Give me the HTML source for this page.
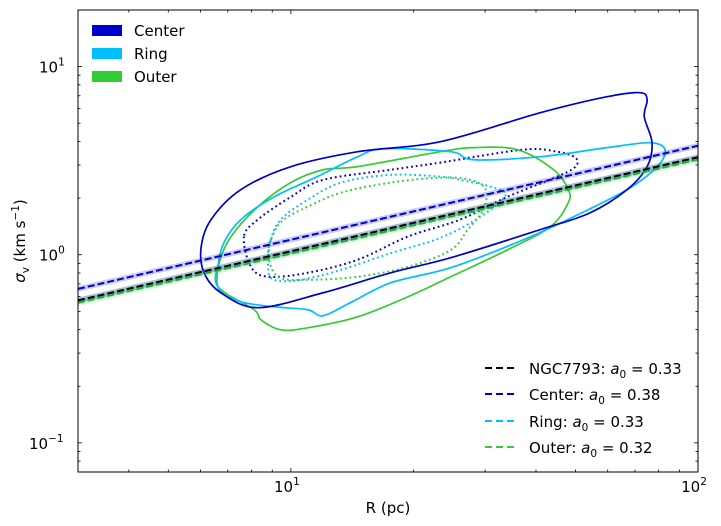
<!DOCTYPE html>
<html><head><meta charset="utf-8">
<style>
html,body{margin:0;padding:0;background:#fff;}
svg{display:block;font-family:"DejaVu Sans","Liberation Sans",sans-serif;}
</style></head>
<body>
<svg id="chart" width="721" height="526" viewBox="0 0 721 526" xmlns="http://www.w3.org/2000/svg">
<g id="marks"></g>
<g id="axes"></g>
</svg>
<script>
// ---- data ----
const fitNames = ["NGC7793", "Center", "Ring", "Outer"];
const fitA0 = [0.33, 0.38, 0.33, 0.32];
const fitColors = ["#000000", "#0000cd", "#00bfff", "#32cd32"];
const regionNames = ["Center", "Ring", "Outer"];
const regionColors = ["#0000cd", "#00bfff", "#32cd32"];

const centerOuterR = [72.1,75.0,73.8,77.1,75.0,67.0,54.3,41.0,24.7,17.6,12.0,8.30,6.73,6.12,6.02,6.37,7.54,10.0,14.6,23.3,41.0,59.8];
const centerOuterS = [7.27,6.67,5.42,3.94,2.94,2.22,1.67,1.36,0.964,0.802,0.628,0.523,0.628,0.802,1.10,1.54,2.22,2.94,3.53,3.99,5.69,6.92];
const ringOuterR = [16.9,24.7,28.1,41.0,59.8,76.2,83.0,79.4,67.0,49.4,37.2,24.7,17.6,14.0,12.0,11.0,9.09,7.54,6.67,6.62,6.85,7.54,9.09,11.6,14.6];
const ringOuterS = [3.66,3.53,3.20,3.32,3.71,3.94,3.62,2.94,2.22,1.59,1.20,0.853,0.710,0.556,0.474,0.510,0.529,0.562,0.652,0.863,1.16,1.54,2.03,2.60,3.32];
const outerOuterR = [6.62,8.12,8.44,9.45,11.0,14.6,19.4,24.7,34.0,43.4,48.0,48.0,44.2,36.0,28.1,23.3,14.6,12.0,10.0,8.30,7.13,6.67];
const outerOuterS = [0.676,0.510,0.451,0.399,0.409,0.468,0.598,0.764,1.06,1.41,1.89,2.22,2.83,3.62,3.71,3.53,2.94,2.83,2.42,1.80,1.25,0.906];
const centerInnerR = [7.67,7.98,8.79,11.0,14.6,19.4,26.1,34.0,45.1,50.0,50.0,45.1,37.2,23.3,17.6,12.0,10.0,8.30];
const centerInnerS = [1.25,0.863,0.764,0.802,0.941,1.25,1.54,2.03,2.60,2.94,3.28,3.53,3.62,3.09,2.83,2.50,2.03,1.54];
const ringInnerR = [8.93,8.79,9.09,10.6,13.3,17.6,23.3,29.2,33.7,30.9,26.1,23.3,17.6,13.3,11.0,9.45];
const ringInnerS = [1.20,0.863,0.736,0.736,0.832,1.02,1.23,1.59,2.08,2.30,2.50,2.60,2.66,2.42,1.96,1.54];
const outerInnerR = [9.09,8.79,9.29,11.0,14.6,19.4,24.7,27.2,29.7,30.1,27.6,23.3,17.6,13.3,11.0,9.61];
const outerInnerS = [1.31,1.02,0.764,0.736,0.764,0.863,1.06,1.36,1.74,2.22,2.50,2.57,2.42,2.14,1.80,1.54];

const xTickVals = [10, 100];
const xTickLabels = ["1", "2"];
const yTickVals = [0.1, 1, 10];
const yTickLabels = ["\u22121", "0", "1"];

// ---- axes ----
const L=78,R=698,T=10,B=472;
const xMin=3,xMax=100,yMin=0.07,yMax=20;
const lx=v=>Math.log10(v);
const X=v=>L+(lx(v)-lx(xMin))/(lx(xMax)-lx(xMin))*(R-L);
const Y=v=>B-(lx(v)-lx(yMin))/(lx(yMax)-lx(yMin))*(B-T);
const NS="http://www.w3.org/2000/svg";
function mk(tag,attrs,parent){const e=document.createElementNS(NS,tag);for(const k in attrs)e.setAttribute(k,attrs[k]);parent.appendChild(e);return e;}
const marks=document.getElementById('marks');
const axes=document.getElementById('axes');
const defs=mk('defs',{},marks);
const cp=mk('clipPath',{id:'clip'},defs);
mk('rect',{x:L,y:T,width:R-L,height:B-T},cp);
const plot=mk('g',{'clip-path':'url(#clip)'},marks);

function closedPath(rs,ss){
  const p=rs.map((r,i)=>[X(r),Y(ss[i])]);const n=p.length;let d=`M${p[0][0]},${p[0][1]}`;
  for(let i=0;i<n;i++){const p0=p[(i-1+n)%n],p1=p[i],p2=p[(i+1)%n],p3=p[(i+2)%n];
    d+=` C${p1[0]+(p2[0]-p0[0])/6},${p1[1]+(p2[1]-p0[1])/6} ${p2[0]-(p3[0]-p1[0])/6},${p2[1]-(p3[1]-p1[1])/6} ${p2[0]},${p2[1]}`;}
  return d+'Z';
}
const contours=[
  [centerInnerR,centerInnerS,0,true,'center-inner-contour'],
  [ringInnerR,ringInnerS,1,true,'ring-inner-contour'],
  [outerInnerR,outerInnerS,2,true,'outer-inner-contour'],
  [outerOuterR,outerOuterS,2,false,'outer-outer-contour'],
  [ringOuterR,ringOuterS,1,false,'ring-outer-contour'],
  [centerOuterR,centerOuterS,0,false,'center-outer-contour']
];
contours.forEach(c=>{
  const el=mk('path',{d:closedPath(c[0],c[1]),fill:'none',stroke:regionColors[c[2]],'stroke-width':1.7},plot);
  if(c[3]){el.setAttribute('stroke-dasharray','1.8 3');el.setAttribute('stroke-width','2');}
  
  
});

const fitOrder=[3,2,0,1];
fitOrder.forEach(i=>{
  const a=fitA0[i];
  const x1=X(xMin),y1=Y(a*Math.sqrt(xMin)),x2=X(xMax),y2=Y(a*Math.sqrt(xMax));
  const band=mk('line',{x1,y1,x2,y2,stroke:fitColors[i],'stroke-opacity':0.2,'stroke-width':5.5},plot);
  
  
  const ln=mk('line',{x1,y1,x2,y2,stroke:fitColors[i],'stroke-width':2,'stroke-dasharray':'7 3'},plot);
  
  
});

const frame=mk('rect',{x:L,y:T,width:R-L,height:B-T,fill:'none',stroke:'#000','stroke-width':1},axes);


function tickX(v,len){mk('line',{x1:X(v),x2:X(v),y1:B,y2:B-len,stroke:'#000','stroke-width':0.8},axes);mk('line',{x1:X(v),x2:X(v),y1:T,y2:T+len,stroke:'#000','stroke-width':0.8},axes);}
function tickY(v,len){mk('line',{x1:L,x2:L+len,y1:Y(v),y2:Y(v),stroke:'#000','stroke-width':0.8},axes);mk('line',{x1:R,x2:R-len,y1:Y(v),y2:Y(v),stroke:'#000','stroke-width':0.8},axes);}
[3,4,5,6,7,8,9,20,30,40,50,60,70,80,90].forEach(v=>tickX(v,2.5));
xTickVals.forEach(v=>tickX(v,4));
[0.07,0.08,0.09,0.2,0.3,0.4,0.5,0.6,0.7,0.8,0.9,2,3,4,5,6,7,8,9,20].forEach(v=>{if(v>=yMin&&v<=yMax)tickY(v,2.5);});
yTickVals.forEach(v=>tickY(v,4));
xTickVals.forEach((v,i)=>{
  const t=mk('text',{x:X(v)-4,y:B+20,'font-size':15,'text-anchor':'middle'},axes);
  
  
  t.textContent='10';
  const s=mk('tspan',{dy:-7,'font-size':10.5},t);s.textContent=xTickLabels[i];
});
yTickVals.forEach((v,i)=>{
  const t=mk('text',{x:yTickLabels[i].length>1?29:39,y:Y(v)+6,'font-size':15,'text-anchor':'start'},axes);
  
  
  t.textContent='10';
  const s=mk('tspan',{dy:-7,'font-size':10.5},t);s.textContent=yTickLabels[i];
});
</script>
<svg style="position:absolute;left:0;top:0" width="721" height="526">
  <text x="388" y="513" font-size="15" text-anchor="middle" font-family="DejaVu Sans, sans-serif">R (pc)</text>
  <text transform="translate(25,241) rotate(-90)" font-size="15" text-anchor="middle" font-family="DejaVu Sans, sans-serif"><tspan font-style="italic">σ</tspan><tspan font-size="10.5" dy="4">v</tspan><tspan dy="-4"> (km s</tspan><tspan font-size="10.5" dy="-6">−1</tspan><tspan dy="6">)</tspan></text>
  <g font-family="DejaVu Sans, sans-serif" font-size="15">
    <rect x="92" y="25" width="30" height="11" fill="#0000cd"/>
    <text x="134" y="36">Center</text>
    <rect x="92" y="48" width="30" height="11" fill="#00bfff"/>
    <text x="134" y="59">Ring</text>
    <rect x="92" y="71" width="30" height="11" fill="#32cd32"/>
    <text x="134" y="82">Outer</text>
  </g>
  <g font-family="DejaVu Sans, sans-serif" font-size="15">
    <line x1="485" y1="368" x2="516" y2="368" stroke="#000" stroke-width="2" stroke-dasharray="7 4"/>
    <text x="529" y="374">NGC7793: <tspan font-style="italic">a</tspan><tspan font-size="10.5" dy="4">0</tspan><tspan dy="-4"> = 0.33</tspan></text>
    <line x1="485" y1="394" x2="516" y2="394" stroke="#0000cd" stroke-width="2" stroke-dasharray="7 4"/>
    <text x="529" y="400">Center: <tspan font-style="italic">a</tspan><tspan font-size="10.5" dy="4">0</tspan><tspan dy="-4"> = 0.38</tspan></text>
    <line x1="485" y1="421" x2="516" y2="421" stroke="#00bfff" stroke-width="2" stroke-dasharray="7 4"/>
    <text x="529" y="427">Ring: <tspan font-style="italic">a</tspan><tspan font-size="10.5" dy="4">0</tspan><tspan dy="-4"> = 0.33</tspan></text>
    <line x1="485" y1="447" x2="516" y2="447" stroke="#32cd32" stroke-width="2" stroke-dasharray="7 4"/>
    <text x="529" y="453">Outer: <tspan font-style="italic">a</tspan><tspan font-size="10.5" dy="4">0</tspan><tspan dy="-4"> = 0.32</tspan></text>
  </g>
</svg>
</body></html>
